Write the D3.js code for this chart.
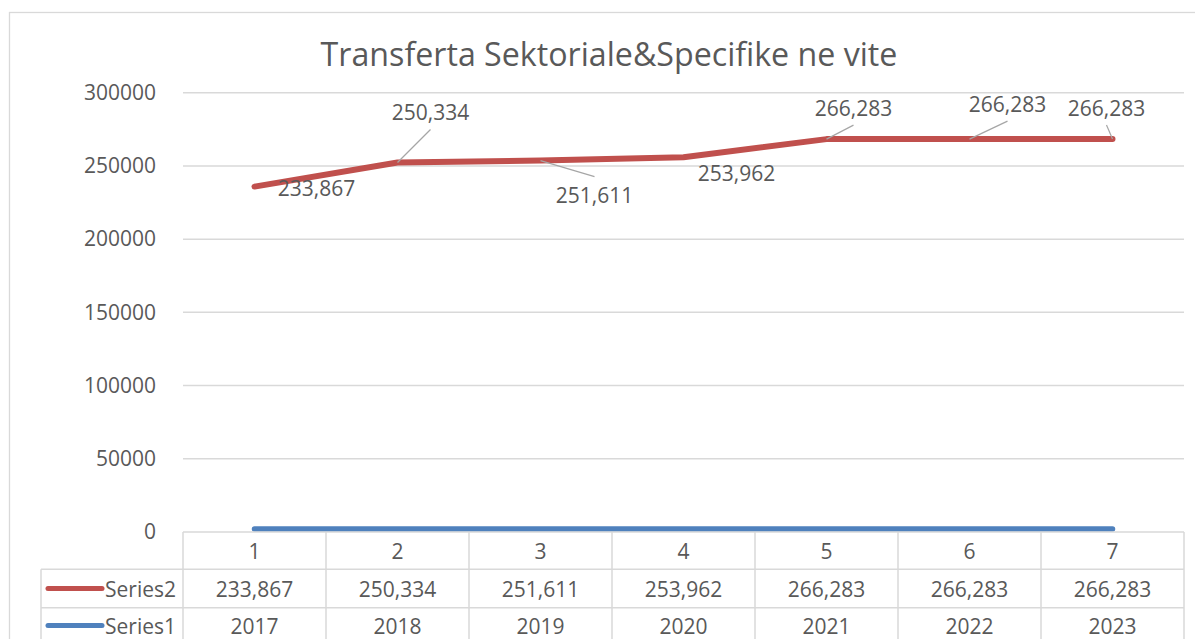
<!DOCTYPE html>
<html>
<head>
<meta charset="utf-8">
<script src="https://cdn.jsdelivr.net/npm/d3@7"></script>
<style>
  body { margin: 0; background: #fff; }
  text { font-family: "Open Sans", sans-serif; fill: #595959; }
</style>
</head>
<body>
<div id="chart"></div>
<script>
// data
var categories = [1, 2, 3, 4, 5, 6, 7];
var series1 = [2017, 2018, 2019, 2020, 2021, 2022, 2023];
var series2 = [233867, 250334, 251611, 253962, 266283, 266283, 266283];
var yTicks = [0, 50000, 100000, 150000, 200000, 250000, 300000];
var titleText = "Transferta Sektoriale&Specifike ne vite";

// where excel put the data labels (offset from the point) + leader line or not
var labelOffsets = [
  [62, 1, false], [33, -50, true], [54, 34, true], [53, 16, false],
  [27, -31, true], [38, -35, true], [-6, -31, true]
];

var W = 1195, H = 639;
var plot = { left: 183, right: 1184, top: 92.7, bottom: 532 };
var tableLeft = 41, rowH = 38.5;

var svg = d3.select("#chart").append("svg")
  .attr("width", W)
  .attr("height", H);

svg.append("rect").attr("width", W).attr("height", H).attr("fill", "#fff");

// chart area border (only top + left are visible)
svg.append("rect")
  .attr("x", 9.5).attr("y", 12.5)
  .attr("width", W + 20).attr("height", H + 20)
  .attr("fill", "none")
  .attr("stroke", "#D9D9D9")
  .attr("stroke-width", 1.3);

var x = d3.scaleBand()
  .domain(categories)
  .range([plot.left, plot.right]);
var cx = function(d) { return x(d) + x.bandwidth() / 2; };

var y = d3.scaleLinear()
  .domain([0, 300000])
  .range([plot.bottom, plot.top]);

// title - fit it to the width it has in the original (~577px)
var title = svg.append("text")
  .attr("x", 609)
  .attr("y", 66)
  .attr("text-anchor", "middle")
  .style("font-size", "32px")
  .style("font-weight", 400)
  .text(titleText);
var tw = title.node().getComputedTextLength();
title.style("font-size", (32 * 577 / tw).toFixed(2) + "px");

// gridlines
svg.append("g")
  .selectAll("line")
  .data(yTicks.slice(1))
  .enter()
  .append("line")
  .attr("x1", plot.left).attr("x2", plot.right)
  .attr("y1", function(d) { return y(d); })
  .attr("y2", function(d) { return y(d); })
  .attr("stroke", "#D9D9D9")
  .attr("stroke-width", 1.5);

// y axis labels
var yAxis = svg.append("g")
  .attr("transform", "translate(" + plot.left + ",0)")
  .call(d3.axisLeft(y).tickValues(yTicks).tickFormat(d3.format("d")).tickSize(0).tickPadding(27));
yAxis.select(".domain").remove();
yAxis.selectAll("text")
  .style("font-size", "21px")
  .style("font-family", "'Open Sans', sans-serif")
  .attr("fill", "#595959");

// stacked line: series2 sits on top of series1
var stacked2 = series2.map(function(v, i) { return v + series1[i]; });

var line = d3.line()
  .x(function(d) { return cx(d[0]); })
  .y(function(d) { return y(d[1]); });

svg.append("path")
  .datum(categories.map(function(c, i) { return [c, series1[i]]; }))
  .attr("d", line)
  .attr("fill", "none")
  .attr("stroke", "#4F81BD")
  .attr("stroke-width", 5.5)
  .attr("stroke-linecap", "round")
  .attr("stroke-linejoin", "round");

svg.append("path")
  .datum(categories.map(function(c, i) { return [c, stacked2[i]]; }))
  .attr("d", line)
  .attr("fill", "none")
  .attr("stroke", "#C0504D")
  .attr("stroke-width", 6)
  .attr("stroke-linecap", "round")
  .attr("stroke-linejoin", "round");

// data labels for series2
var fmt = d3.format(",");
var labels = svg.append("g");
categories.forEach(function(c, i) {
  var px = cx(c), py = y(stacked2[i]);
  var o = labelOffsets[i];
  var lx = px + o[0], ly = py + o[1];
  if (o[2]) {
    var ey = o[1] < 0 ? ly + 17 : ly - 18;
    labels.append("line")
      .attr("x1", px).attr("y1", py)
      .attr("x2", lx).attr("y2", ey)
      .attr("stroke", "#A6A6A6")
      .attr("stroke-width", 1.2);
  }
  labels.append("text")
    .attr("x", lx).attr("y", ly)
    .attr("text-anchor", "middle")
    .attr("dominant-baseline", "central")
    .style("font-size", "21px")
    .text(fmt(series2[i]));
});

// data table
var table = svg.append("g").attr("class", "table");
var gridCol = "#D9D9D9";
var r0 = plot.bottom, r1 = r0 + 37.3, r2 = r1 + rowH, r3 = r2 + rowH;

// axis line + row lines
table.append("line").attr("x1", plot.left).attr("x2", plot.right).attr("y1", r0).attr("y2", r0);
table.append("line").attr("x1", tableLeft).attr("x2", plot.right).attr("y1", r1).attr("y2", r1);
table.append("line").attr("x1", tableLeft).attr("x2", plot.right).attr("y1", r2).attr("y2", r2);
table.append("line").attr("x1", tableLeft).attr("x2", tableLeft).attr("y1", r1).attr("y2", r3);
// column lines
table.selectAll("line.col")
  .data(categories.concat(["end"]))
  .enter()
  .append("line")
  .attr("class", "col")
  .attr("x1", function(d) { return d === "end" ? plot.right : x(d); })
  .attr("x2", function(d) { return d === "end" ? plot.right : x(d); })
  .attr("y1", r0).attr("y2", r3);
table.selectAll("line")
  .attr("stroke", gridCol)
  .attr("stroke-width", 1.5);

var rows = [
  { y: (r0 + r1) / 2, vals: categories, f: String },
  { y: (r1 + r2) / 2, vals: series2, f: fmt, name: "Series2", color: "#C0504D" },
  { y: (r2 + r3) / 2 - 1.5, vals: series1, f: String, name: "Series1", color: "#4F81BD" }
];
rows.forEach(function(r) {
  table.append("g")
    .selectAll("text")
    .data(r.vals)
    .enter()
    .append("text")
    .attr("x", function(d, i) { return cx(categories[i]); })
    .attr("y", r.y)
    .attr("text-anchor", "middle")
    .attr("dominant-baseline", "central")
    .style("font-size", "21px")
    .text(function(d) { return r.f(d); });
  if (r.name) {
    table.append("line")
      .attr("x1", 48).attr("x2", 102)
      .attr("y1", r.y).attr("y2", r.y)
      .attr("stroke", r.color)
      .attr("stroke-width", 5)
      .attr("stroke-linecap", "round");
    table.append("text")
      .attr("x", 105)
      .attr("y", r.y)
      .attr("dominant-baseline", "central")
      .style("font-size", "21px")
      .text(r.name);
  }
});
</script>
</body>
</html>
